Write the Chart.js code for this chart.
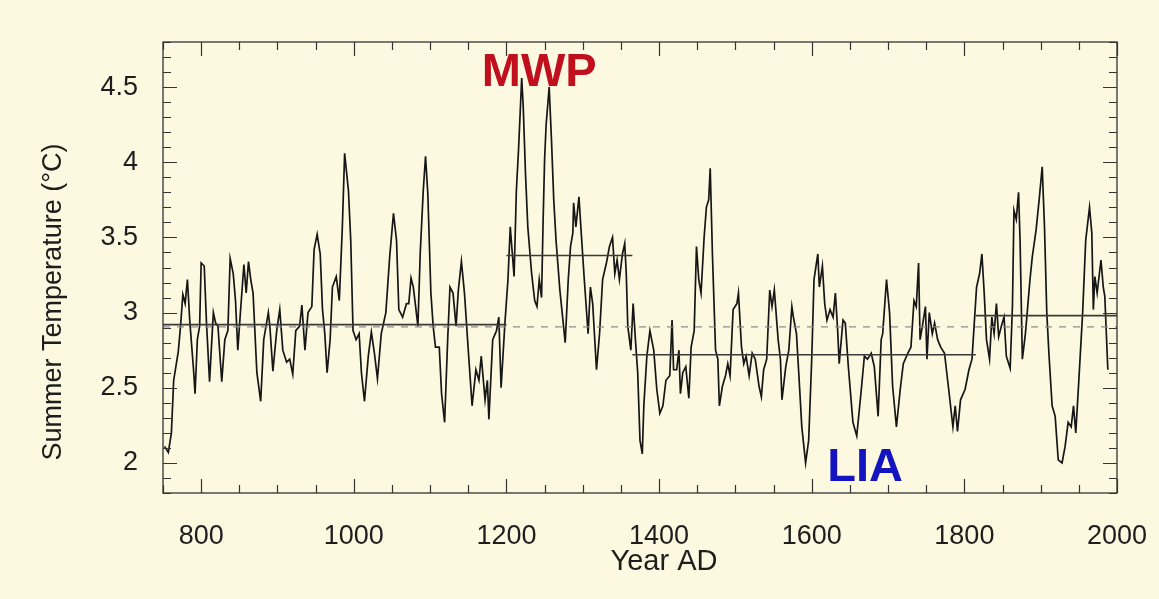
<!DOCTYPE html>
<html>
<head>
<meta charset="utf-8">
<script src="https://cdn.jsdelivr.net/npm/chart.js@4.4.0/dist/chart.umd.min.js"></script>
<style>
  html, body { margin: 0; padding: 0; background: #fdf9e0; }
  #wrap { width: 1159px; height: 599px; }
</style>
</head>
<body>
<div id="wrap"><canvas id="tempChart" width="1159" height="599"></canvas></div>
<script>
// -------------------------------
// DATA (read off the reconstruction)
// -------------------------------
const YEARS = [
  752, 757, 761, 764, 770, 773, 776, 779, 782, 785, 790, 792, 795, 798, 800, 804, 807, 811, 814, 816,
  819, 822, 827, 831, 835, 838, 842, 845, 848, 851, 856, 859, 862, 865, 868, 873, 878, 882, 888, 890,
  894, 899, 903, 907, 912, 916, 920, 924, 929, 932, 936, 940, 945, 948, 952, 956, 959, 962, 965, 969,
  972, 977, 981, 985, 988, 993, 996, 999, 1003, 1007, 1010, 1014, 1019, 1023, 1027, 1031, 1036, 1042, 1047, 1052,
  1056, 1059, 1064, 1069, 1072, 1075, 1078, 1081, 1084, 1087, 1091, 1094, 1097, 1101, 1104, 1107, 1112, 1115, 1119, 1123,
  1126, 1130, 1134, 1137, 1141, 1145, 1150, 1155, 1160, 1164, 1167, 1172, 1175, 1177, 1182, 1187, 1190, 1193, 1198, 1202,
  1205, 1210, 1213, 1216, 1220, 1222, 1225, 1228, 1233, 1237, 1240, 1243, 1246, 1248, 1250, 1252, 1256, 1259, 1262, 1265,
  1270, 1274, 1277, 1281, 1284, 1287, 1288, 1291, 1295, 1298, 1302, 1307, 1310, 1313, 1318, 1322, 1326, 1331, 1335, 1339,
  1342, 1345, 1348, 1352, 1355, 1357, 1359, 1363, 1366, 1369, 1372, 1375, 1378, 1380, 1384, 1388, 1393, 1397, 1401, 1405,
  1409, 1414, 1417, 1419, 1423, 1426, 1428, 1431, 1435, 1439, 1442, 1446, 1449, 1452, 1455, 1459, 1462, 1465, 1467, 1470,
  1474, 1477, 1479, 1483, 1487, 1490, 1493, 1497, 1502, 1504, 1508, 1511, 1514, 1518, 1522, 1526, 1531, 1534, 1537, 1541,
  1545, 1548, 1551, 1556, 1559, 1561, 1566, 1570, 1574, 1576, 1580, 1583, 1587, 1592, 1596, 1600, 1603, 1608, 1610, 1614,
  1617, 1620, 1624, 1628, 1631, 1634, 1636, 1641, 1644, 1648, 1654, 1659, 1665, 1669, 1673, 1678, 1682, 1687, 1691, 1693,
  1698, 1702, 1706, 1711, 1716, 1720, 1726, 1730, 1734, 1737, 1740, 1742, 1745, 1749, 1751, 1754, 1758, 1761, 1765, 1769,
  1774, 1779, 1785, 1788, 1791, 1795, 1801, 1806, 1810, 1813, 1816, 1820, 1823, 1826, 1829, 1833, 1836, 1839, 1842, 1845,
  1849, 1852, 1855, 1860, 1863, 1865, 1868, 1871, 1873, 1876, 1880, 1883, 1886, 1889, 1894, 1898, 1902, 1905, 1908, 1911,
  1915, 1919, 1923, 1928, 1932, 1936, 1940, 1943, 1946, 1950, 1955, 1959, 1964, 1967, 1969, 1971, 1974, 1979, 1982, 1984,
  1988
];
const TEMPS = [
  2.11, 2.07, 2.20, 2.55, 2.74, 2.91, 3.12, 3.06, 3.22, 2.95, 2.62, 2.46, 2.82, 2.91, 3.33, 3.31, 2.93, 2.54, 2.82, 3.00,
  2.93, 2.91, 2.54, 2.82, 2.88, 3.36, 3.26, 3.08, 2.75, 2.97, 3.32, 3.13, 3.34, 3.22, 3.13, 2.60, 2.41, 2.82, 3.00, 2.91,
  2.61, 2.88, 3.02, 2.75, 2.67, 2.69, 2.59, 2.88, 2.91, 3.05, 2.75, 3.00, 3.04, 3.42, 3.52, 3.39, 3.02, 2.86, 2.60, 2.82,
  3.17, 3.24, 3.08, 3.57, 4.06, 3.81, 3.48, 2.88, 2.82, 2.86, 2.60, 2.41, 2.71, 2.87, 2.73, 2.56, 2.86, 3.00, 3.37, 3.66,
  3.48, 3.02, 2.97, 3.06, 3.06, 3.23, 3.17, 3.04, 2.91, 3.39, 3.81, 4.04, 3.79, 3.13, 2.91, 2.77, 2.77, 2.46, 2.27, 2.82,
  3.17, 3.13, 2.91, 3.15, 3.34, 3.13, 2.75, 2.38, 2.62, 2.55, 2.71, 2.42, 2.55, 2.29, 2.82, 2.88, 2.97, 2.50, 2.93, 3.22,
  3.57, 3.24, 3.81, 4.10, 4.56, 4.37, 3.92, 3.57, 3.26, 3.08, 3.04, 3.22, 3.10, 3.60, 4.02, 4.25, 4.50, 4.15, 3.75, 3.48,
  3.15, 2.95, 2.80, 3.22, 3.44, 3.53, 3.73, 3.57, 3.77, 3.53, 3.22, 2.86, 3.17, 3.06, 2.62, 2.86, 3.22, 3.33, 3.44, 3.50,
  3.26, 3.35, 3.22, 3.39, 3.46, 3.26, 2.91, 2.75, 3.06, 2.82, 2.60, 2.15, 2.06, 2.38, 2.71, 2.88, 2.75, 2.49, 2.33, 2.38,
  2.55, 2.58, 2.95, 2.62, 2.62, 2.75, 2.46, 2.60, 2.64, 2.43, 2.77, 2.88, 3.44, 3.22, 3.13, 3.50, 3.70, 3.75, 3.96, 3.37,
  2.75, 2.69, 2.38, 2.51, 2.58, 2.66, 2.58, 3.02, 3.06, 3.13, 2.77, 2.66, 2.71, 2.58, 2.73, 2.69, 2.51, 2.44, 2.62, 2.69,
  3.15, 3.04, 3.15, 2.82, 2.69, 2.42, 2.64, 2.75, 3.04, 2.97, 2.86, 2.60, 2.24, 2.00, 2.15, 2.69, 3.22, 3.39, 3.17, 3.31,
  3.06, 2.95, 3.02, 2.97, 3.13, 2.88, 2.66, 2.95, 2.93, 2.64, 2.27, 2.18, 2.49, 2.71, 2.69, 2.73, 2.64, 2.31, 2.82, 2.86,
  3.22, 3.00, 2.51, 2.24, 2.49, 2.66, 2.73, 2.77, 3.08, 3.04, 3.33, 2.82, 2.91, 3.04, 2.69, 3.00, 2.86, 2.93, 2.82, 2.77,
  2.73, 2.51, 2.24, 2.38, 2.21, 2.42, 2.49, 2.62, 2.69, 2.93, 3.17, 3.26, 3.39, 3.13, 2.82, 2.69, 2.97, 2.86, 3.06, 2.84,
  2.92, 2.97, 2.71, 2.63, 3.04, 3.68, 3.62, 3.80, 3.48, 2.69, 2.86, 3.04, 3.22, 3.37, 3.55, 3.75, 3.97, 3.57, 3.00, 2.71,
  2.38, 2.31, 2.02, 2.00, 2.11, 2.27, 2.24, 2.38, 2.20, 2.55, 3.00, 3.48, 3.70, 3.53, 3.02, 3.24, 3.13, 3.35, 3.17, 3.11,
  2.62
];

// period means (solid) and full-record mean (dashed)
const MEAN_START = [750, 1200, 1365, 1815];
const MEAN_END = [1200, 1365, 1815, 2000];
const MEAN_VALUE = [2.92, 3.38, 2.72, 2.98];
const OVERALL_MEAN = 2.905;

const X_RANGE = [750, 2000];
const Y_RANGE = [1.8, 4.8];

// -------------------------------
// DATASETS
// -------------------------------
const seriesPoints = YEARS.map((yr, i) => ({ x: yr, y: TEMPS[i] }));

const meanPoints = [];
MEAN_START.forEach((s, i) => {
  meanPoints.push({ x: s, y: MEAN_VALUE[i] });
  meanPoints.push({ x: MEAN_END[i], y: MEAN_VALUE[i] });
  meanPoints.push({ x: MEAN_END[i], y: null }); // break between periods
});

const overallPoints = [{ x: X_RANGE[0], y: OVERALL_MEAN }, { x: X_RANGE[1], y: OVERALL_MEAN }];

const BG = '#fdf9e0';
const INK = '#1e1e1e';
const FONT = '"Liberation Sans", Arial, sans-serif';

// frame, inward ticks, titles and period labels
const framePlugin = {
  id: 'frame',
  beforeDraw(chart) {
    const ctx = chart.ctx;
    ctx.save();
    ctx.fillStyle = BG;
    ctx.fillRect(0, 0, chart.width, chart.height);
    ctx.restore();
  },
  afterDraw(chart) {
    const { ctx, chartArea: a, scales: { x, y } } = chart;
    ctx.save();
    ctx.strokeStyle = '#333';
    ctx.lineWidth = 1.3;
    ctx.strokeRect(a.left, a.top, a.right - a.left, a.bottom - a.top);

    ctx.beginPath();
    x.ticks.forEach(t => {
      const px = Math.round(x.getPixelForValue(t.value)) + 0.5;
      const len = t.value % 200 === 0 ? 14 : 8;
      ctx.moveTo(px, a.bottom); ctx.lineTo(px, a.bottom - len);
      ctx.moveTo(px, a.top); ctx.lineTo(px, a.top + len);
    });
    y.ticks.forEach(t => {
      const py = Math.round(y.getPixelForValue(t.value)) + 0.5;
      const v = Math.round(t.value * 10);
      const len = v % 5 === 0 ? 14 : 8;
      ctx.moveTo(a.left, py); ctx.lineTo(a.left + len, py);
      ctx.moveTo(a.right, py); ctx.lineTo(a.right - len, py);
    });
    ctx.lineWidth = 1.2;
    ctx.stroke();

    // axis titles
    ctx.fillStyle = INK;
    ctx.textAlign = 'center';
    ctx.textBaseline = 'middle';
    ctx.font = '29px ' + FONT;
    ctx.fillText('Year AD', 664, 562);
    ctx.save();
    ctx.translate(54, 302);
    ctx.rotate(-Math.PI / 2);
    ctx.font = '27px ' + FONT;
    ctx.fillText('Summer Temperature (°C)', 0, 0);
    ctx.restore();

    // period labels
    ctx.textBaseline = 'alphabetic';
    ctx.font = 'bold 47px ' + FONT;
    ctx.fillStyle = '#c0101e';
    ctx.fillText('MWP', x.getPixelForValue(1243), y.getPixelForValue(4.51));
    ctx.fillStyle = '#1414c0';
    ctx.fillText('LIA', x.getPixelForValue(1670), y.getPixelForValue(1.88));
    ctx.restore();
  }
};

const ctx = document.getElementById('tempChart').getContext('2d');
const tempChart = new Chart(ctx, {
  type: 'line',
  data: {
    datasets: [
      {
        data: overallPoints,
        borderColor: '#8a8a8a',
        borderWidth: 1.2,
        borderDash: [7, 7],
        pointRadius: 0
      },
      {
        data: meanPoints,
        borderColor: '#3a3a3a',
        borderWidth: 1.6,
        pointRadius: 0,
        spanGaps: false
      },
      {
        data: seriesPoints,
        borderColor: '#161616',
        borderWidth: 1.7,
        pointRadius: 0,
        tension: 0
      }
    ]
  },
  options: {
    responsive: false,
    animation: false,
    layout: { padding: { left: 0, right: 42, top: 42, bottom: 0 } },
    plugins: { legend: { display: false }, tooltip: { enabled: false } },
    scales: {
      x: {
        type: 'linear',
        min: X_RANGE[0],
        max: X_RANGE[1],
        grid: { display: false, drawTicks: false },
        border: { display: false },
        afterFit: s => { s.height = 106; s.paddingLeft = 0; s.paddingRight = 0; },
        ticks: {
          stepSize: 50,
          autoSkip: false,
          maxRotation: 0,
          padding: 27,
          color: INK,
          font: { family: FONT, size: 27 },
          callback: v => (v % 200 === 0 ? String(v) : '')
        }
      },
      y: {
        min: Y_RANGE[0],
        max: Y_RANGE[1],
        grid: { display: false, drawTicks: false },
        border: { display: false },
        afterFit: s => { s.width = 163; s.paddingTop = 0; s.paddingBottom = 0; },
        ticks: {
          stepSize: 0.1,
          autoSkip: false,
          padding: 25,
          color: INK,
          font: { family: FONT, size: 27 },
          callback: v => {
            const h = Math.round(v * 10);
            return h % 5 === 0 ? String(h / 10) : '';
          }
        }
      }
    }
  },
  plugins: [framePlugin]
});
</script>
</body>
</html>
